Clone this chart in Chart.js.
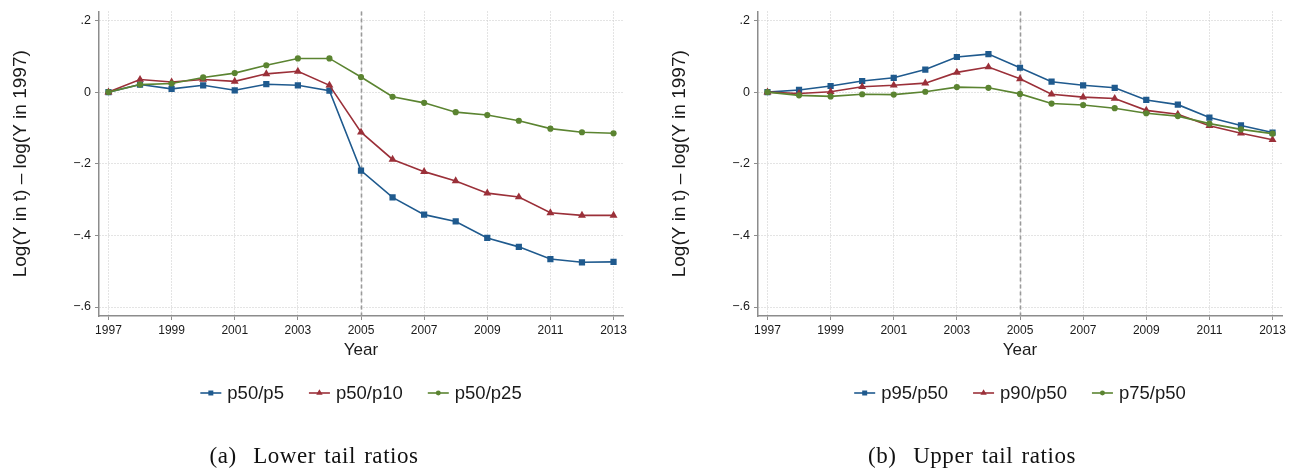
<!DOCTYPE html>
<html>
<head>
<meta charset="utf-8">
<script src="https://cdn.jsdelivr.net/npm/chart.js@4.4.1/dist/chart.umd.min.js"></script>
<style>
  html, body { margin: 0; padding: 0; background: #fff; width: 1296px; height: 472px; overflow: hidden; }
  .panel { position: absolute; top: 0; width: 637px; height: 472px; }
  .caption {
    position: absolute; top: 444px; transform: translateX(-50%);
    font-family: "Liberation Serif", serif; font-size: 23px; line-height: 24px;
    letter-spacing: 0.55px; word-spacing: 2px; color: #111; white-space: pre;
  }
</style>
</head>
<body>
<div class="panel" style="left:0"><canvas id="lower" width="637" height="472"></canvas></div>
<div class="panel" style="left:659px"><canvas id="upper" width="637" height="472"></canvas></div>
<div class="caption" style="left:314px">(a)  Lower tail ratios</div>
<div class="caption" style="left:972px">(b)  Upper tail ratios</div>

<script>
// Survey years and axis ticks
const years = [1997, 1998, 1999, 2000, 2001, 2002, 2003, 2004, 2005, 2006, 2007, 2008, 2009, 2010, 2011, 2012, 2013];
const xTicks = [1997, 1999, 2001, 2003, 2005, 2007, 2009, 2011, 2013];
const yTicks = [0.2, 0, -0.2, -0.4, -0.6];
const yTickLabels = ['.2', '0', '\u2212.2', '\u2212.4', '\u2212.6'];
const breakYear = 2005;

// Lower tail: log ratio relative to 1997
const lowerLabels = ['p50/p5', 'p50/p10', 'p50/p25'];
const p50p5  = [0, 0.021, 0.009, 0.019, 0.005, 0.022, 0.019, 0.004, -0.219, -0.294, -0.342, -0.361, -0.407, -0.432, -0.466, -0.475, -0.474];
const p50p10 = [0, 0.035, 0.028, 0.035, 0.030, 0.051, 0.058, 0.019, -0.112, -0.188, -0.222, -0.248, -0.282, -0.293, -0.337, -0.344, -0.344];
const p50p25 = [0, 0.021, 0.024, 0.041, 0.053, 0.075, 0.094, 0.094, 0.042, -0.013, -0.030, -0.056, -0.064, -0.080, -0.102, -0.112, -0.115];

// Upper tail: log ratio relative to 1997
const upperLabels = ['p95/p50', 'p90/p50', 'p75/p50'];
const p95p50 = [0, 0.006, 0.017, 0.031, 0.040, 0.063, 0.098, 0.106, 0.068, 0.029, 0.019, 0.012, -0.022, -0.035, -0.071, -0.093, -0.113];
const p90p50 = [0, -0.004, 0.001, 0.015, 0.019, 0.025, 0.055, 0.070, 0.037, -0.006, -0.014, -0.018, -0.051, -0.062, -0.094, -0.115, -0.133];
const p75p50 = [0, -0.009, -0.012, -0.006, -0.007, 0.001, 0.014, 0.012, -0.005, -0.032, -0.036, -0.045, -0.059, -0.067, -0.088, -0.104, -0.116];

const palette = ['#1f5a8e', '#9b3039', '#5b8431'];
const markerShapes = ['rect', 'triangle', 'circle'];
const markerRadius = [4.4, 4.6, 3.1];
const FONT = '"Liberation Sans", Arial, sans-serif';

function makeDatasets(labels, seriesList) {
  return seriesList.map((vals, i) => ({
    label: labels[i],
    data: years.map((yr, k) => ({ x: yr, y: vals[k] })),
    borderColor: palette[i],
    backgroundColor: palette[i],
    borderWidth: 1.6,
    pointStyle: markerShapes[i],
    pointRadius: markerRadius[i],
    pointBorderWidth: 0,
    pointBackgroundColor: palette[i],
    tension: 0,
    order: 3 - i
  }));
}

function marker(ctx, shape, x, y, r) {
  ctx.beginPath();
  if (shape === 'rect') {
    const s = r * Math.SQRT1_2;
    ctx.rect(x - s, y - s, 2 * s, 2 * s);
  } else if (shape === 'triangle') {
    ctx.moveTo(x, y - r);
    ctx.lineTo(x + r * Math.sin(Math.PI / 3), y + r / 2);
    ctx.lineTo(x - r * Math.sin(Math.PI / 3), y + r / 2);
    ctx.closePath();
  } else {
    ctx.arc(x, y, r, 0, Math.PI * 2);
  }
  ctx.fill();
}

// Dashed reference line at the break year, under the series
const breakLine = {
  id: 'breakLine',
  beforeDatasetsDraw(chart) {
    const { ctx, chartArea, scales } = chart;
    const x = Math.round(scales.x.getPixelForValue(breakYear)) + 0.5;
    ctx.save();
    ctx.strokeStyle = '#9a9a9a';
    ctx.lineWidth = 1.6;
    ctx.setLineDash([4, 3]);
    ctx.beginPath();
    ctx.moveTo(x, chartArea.top);
    ctx.lineTo(x, chartArea.bottom);
    ctx.stroke();
    ctx.restore();
  }
};

// Legend with line-and-marker keys, centred under the plot region
const lineLegend = {
  id: 'lineLegend',
  afterDraw(chart, args, opts) {
    const { ctx, chartArea } = chart;
    ctx.save();
    ctx.font = '18.5px ' + FONT;
    const sym = 21, gapIn = 6, gapOut = 25;
    const items = chart.data.datasets.map(ds => ({ ds, w: ctx.measureText(ds.label).width }));
    const total = items.reduce((s, it) => s + sym + gapIn + it.w, 0) + gapOut * (items.length - 1);
    let x = (chartArea.left + chartArea.right) / 2 - total / 2;
    const y = opts.y;
    items.forEach(it => {
      ctx.strokeStyle = it.ds.borderColor;
      ctx.fillStyle = it.ds.borderColor;
      ctx.lineWidth = 1.6;
      ctx.beginPath();
      ctx.moveTo(x, y);
      ctx.lineTo(x + sym, y);
      ctx.stroke();
      marker(ctx, it.ds.pointStyle, x + sym / 2, y, it.ds.pointRadius * 0.8);
      ctx.fillStyle = '#1a1a1a';
      ctx.textBaseline = 'middle';
      ctx.textAlign = 'left';
      ctx.fillText(it.ds.label, x + sym + gapIn, y + 1);
      x += sym + gapIn + it.w + gapOut;
    });
    ctx.restore();
  }
};

function makeChart(id, labels, seriesList) {
  return new Chart(document.getElementById(id), {
    type: 'line',
    data: { datasets: makeDatasets(labels, seriesList) },
    plugins: [breakLine, lineLegend],
    options: {
      responsive: false,
      animation: false,
      events: [],
      layout: { padding: { top: 10, right: 14, bottom: 106, left: 0 } },
      plugins: {
        legend: { display: false },
        tooltip: { enabled: false },
        lineLegend: { y: 393 }
      },
      scales: {
        x: {
          type: 'linear',
          min: 1996.7,
          max: 2013.3,
          afterBuildTicks: s => { s.ticks = xTicks.map(v => ({ value: v })); },
          afterFit: s => { s.height = 50; },
          ticks: {
            autoSkip: false, maxRotation: 0, padding: 3, color: '#1a1a1a',
            font: { family: FONT, size: 12 },
            callback: v => String(v)
          },
          grid: { color: '#c8c8c8', lineWidth: 1, tickLength: 4, tickColor: '#8c8c8c', tickWidth: 1 },
          border: { color: '#8c8c8c', width: 1.5, dash: [1, 2] },
          title: {
            display: true, text: 'Year', color: '#1a1a1a',
            font: { family: FONT, size: 17 }, padding: { top: 0, bottom: 5 }
          }
        },
        y: {
          min: -0.625,
          max: 0.225,
          afterBuildTicks: s => { s.ticks = yTicks.map(v => ({ value: v })); },
          afterFit: s => { s.width = 99; },
          ticks: {
            padding: 4, color: '#1a1a1a',
            font: { family: FONT, size: 12.5 },
            callback: (v, i) => yTickLabels[i]
          },
          grid: { color: '#c8c8c8', lineWidth: 1, tickLength: 4, tickColor: '#8c8c8c', tickWidth: 1 },
          border: { color: '#8c8c8c', width: 1.5, dash: [1, 2] },
          title: {
            display: true, text: 'Log(Y in t) \u2013 log(Y in 1997)', color: '#1a1a1a',
            font: { family: FONT, size: 19 }, padding: { top: 9, bottom: 0 }
          }
        }
      }
    }
  });
}

makeChart('lower', lowerLabels, [p50p5, p50p10, p50p25]);
makeChart('upper', upperLabels, [p95p50, p90p50, p75p50]);
</script>
</body>
</html>
